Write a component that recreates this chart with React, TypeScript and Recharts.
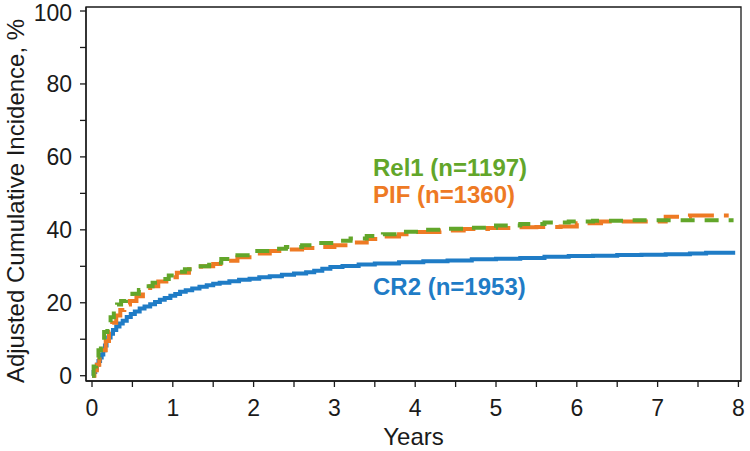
import React from "react";
import { LineChart, Line, XAxis, YAxis, ReferenceArea } from "recharts";

// CR2 (n=1953)
const cr2Time = [0, 0.02, 0.04, 0.06, 0.08, 0.1, 0.12, 0.14, 0.16, 0.18, 0.2, 0.23, 0.26, 0.3, 0.34, 0.38, 0.43, 0.48, 0.53, 0.59, 0.65, 0.72, 0.78, 0.84, 0.9, 0.97, 1.03, 1.09, 1.16, 1.24, 1.33, 1.42, 1.5, 1.58, 1.7, 1.82, 1.95, 2.07, 2.2, 2.35, 2.5, 2.65, 2.75, 2.85, 2.95, 3.1, 3.3, 3.5, 3.8, 4.1, 4.4, 4.7, 5.0, 5.3, 5.6, 5.9, 6.2, 6.5, 6.8, 7.1, 7.4, 7.6, 7.96];
const cr2Value = [0, 1, 2, 3, 4, 5, 5.8, 7, 8.3, 9.5, 10.5, 11.5, 12.5, 13.5, 14.3, 15.1, 16.1, 16.9, 17.6, 18.4, 19, 19.6, 20.2, 20.8, 21.3, 21.9, 22.4, 23, 23.4, 23.9, 24.4, 24.8, 25.2, 25.5, 25.9, 26.3, 26.6, 27, 27.3, 27.7, 28, 28.4, 28.8, 29.3, 29.8, 30.1, 30.5, 30.8, 31.1, 31.4, 31.6, 31.9, 32.1, 32.3, 32.6, 32.8, 32.9, 33.1, 33.2, 33.3, 33.5, 33.7, 33.7];

// Rel1 (n=1197)
const rel1Time = [0, 0.02, 0.05, 0.08, 0.11, 0.15, 0.19, 0.23, 0.27, 0.31, 0.36, 0.42, 0.5, 0.58, 0.66, 0.75, 0.85, 0.95, 1.05, 1.15, 1.3, 1.45, 1.6, 1.8, 2.0, 2.2, 2.4, 2.6, 2.8, 3.0, 3.2, 3.4, 3.6, 3.8, 4.1, 4.4, 4.7, 5.0, 5.3, 5.6, 5.9, 6.2, 6.6, 7.0, 7.94];
const rel1Value = [0, 2.5, 5, 7, 9.5, 12, 14.5, 16, 18, 19.5, 20.5, 21.5, 22.5, 23.5, 24.5, 25.5, 26.5, 27.5, 28.5, 29.2, 30, 31, 32, 33, 34.2, 34.8, 35.3, 35.8, 36.4, 37, 37.6, 38.3, 38.8, 39.5, 40, 40.3, 40.6, 41.2, 41.6, 42, 42.3, 42.5, 42.6, 42.6, 42.6];

// PIF (n=1360)
const pifTime = [0, 0.03, 0.06, 0.09, 0.13, 0.17, 0.21, 0.25, 0.3, 0.35, 0.4, 0.47, 0.55, 0.63, 0.72, 0.82, 0.92, 1.05, 1.2, 1.35, 1.5, 1.65, 1.8, 2.0, 2.2, 2.4, 2.6, 2.8, 3.0, 3.2, 3.4, 3.6, 3.8, 4.0, 4.3, 4.6, 4.9, 5.2, 5.5, 5.8, 6.0, 6.3, 6.7, 7.1, 7.4, 7.88];
const pifValue = [0, 1.5, 3, 4.5, 7, 9.5, 12, 14.5, 16.5, 18, 19.5, 20.5, 21.8, 23, 24.5, 25.8, 27, 28.2, 29.2, 30, 30.6, 31.5, 32.5, 33.5, 34.2, 34.6, 35, 35.3, 35.8, 36.5, 37.5, 38.2, 38.8, 39.4, 39.8, 40.2, 40.5, 40.7, 40.8, 40.9, 41.8, 42.3, 42.3, 43.6, 43.9, 43.9];

const xTicks = [0, 0.5, 1, 1.5, 2, 2.5, 3, 3.5, 4, 4.5, 5, 5.5, 6, 6.5, 7, 7.5, 8];
const yTicks = [0, 10, 20, 30, 40, 50, 60, 70, 80, 90, 100];

const seriesLabels = ["Rel1 (n=1197)", "PIF (n=1360)", "CR2 (n=1953)"];

const toData = (t: number[], v: number[]) => t.map((x, i) => ({ t: x, v: v[i] }));
const cr2Data = toData(cr2Time, cr2Value);
const rel1Data = toData(rel1Time, rel1Value);
const pifData = toData(pifTime, pifValue);

const X_MIN = -0.0743;
const X_MAX = 8.032;
const Y_MIN = -1.45;
const Y_MAX = 101.1;

const FONT = "'Liberation Sans', Arial, sans-serif";
const GREEN = "#62a62a";
const ORANGE = "#ee7a24";
const BLUE = "#1f7cc6";
const INK = "#1a1a1a";

export default function App() {
  return (
    <div style={{ position: "absolute", left: 0, top: 0, width: 750, height: 451, background: "#fff" }}>
      <LineChart
        width={750}
        height={451}
        margin={{ top: 7, right: 9, left: 0, bottom: 0 }}
        style={{ fontFamily: FONT }}
      >
        <XAxis
          dataKey="t"
          type="number"
          domain={[X_MIN, X_MAX]}
          ticks={xTicks}
          allowDataOverflow
          height={70}
          tickSize={6}
          tickMargin={13}
          tickFormatter={(v: number) => (Number.isInteger(v) ? String(v) : "")}
          tick={{ fontSize: 23, fill: INK, fontFamily: FONT }}
          stroke={INK}
          axisLine={{ stroke: INK, strokeWidth: 1.3 }}
          tickLine={{ stroke: INK, strokeWidth: 1.3 }}
        />
        <YAxis
          dataKey="v"
          type="number"
          domain={[Y_MIN, Y_MAX]}
          ticks={yTicks}
          allowDataOverflow
          width={86}
          tickSize={6}
          tickMargin={8}
          tickFormatter={(v: number) => (v % 20 === 0 ? String(v) : "")}
          tick={{ fontSize: 23, fill: INK, fontFamily: FONT }}
          stroke={INK}
          axisLine={{ stroke: INK, strokeWidth: 1.3 }}
          tickLine={{ stroke: INK, strokeWidth: 1.3 }}
        />
        <ReferenceArea
          x1={X_MIN}
          x2={X_MAX}
          y1={Y_MIN}
          y2={Y_MAX}
          fill="none"
          fillOpacity={0}
          stroke={INK}
          strokeWidth={1.3}
          ifOverflow="visible"
        />
        <Line
          data={cr2Data}
          dataKey="v"
          type="stepAfter"
          stroke={BLUE}
          strokeWidth={4}
          dot={false}
          isAnimationActive={false}
        />
        <Line
          data={pifData}
          dataKey="v"
          type="stepAfter"
          stroke={ORANGE}
          strokeWidth={4}
          strokeDasharray="26 10"
          dot={false}
          isAnimationActive={false}
        />
        <Line
          data={rel1Data}
          dataKey="v"
          type="stepAfter"
          stroke={GREEN}
          strokeWidth={4}
          strokeDasharray="14 10"
          dot={false}
          isAnimationActive={false}
        />
        <text x={373} y={176} fill={GREEN} fontSize={24} fontWeight="bold" fontFamily={FONT}>
          {seriesLabels[0]}
        </text>
        <text x={373} y={203} fill={ORANGE} fontSize={24} fontWeight="bold" fontFamily={FONT}>
          {seriesLabels[1]}
        </text>
        <text x={373} y={295} fill={BLUE} fontSize={24} fontWeight="bold" fontFamily={FONT}>
          {seriesLabels[2]}
        </text>
        <text x={413.5} y={445} textAnchor="middle" fill={INK} fontSize={24} fontFamily={FONT}>
          Years
        </text>
        <text
          x={0}
          y={0}
          transform="translate(24,201) rotate(-90)"
          textAnchor="middle"
          fill={INK}
          fontSize={24}
          fontFamily={FONT}
        >
          Adjusted Cumulative Incidence, %
        </text>
      </LineChart>
    </div>
  );
}
